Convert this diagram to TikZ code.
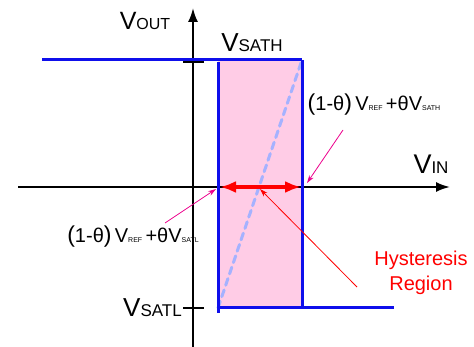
\documentclass[tikz,border=0pt]{standalone}
\usepackage{fontspec}
\setmainfont{Liberation Sans}
\usepackage{xcolor}
\usetikzlibrary{arrows.meta, positioning}

\definecolor{hystpink}{RGB}{255,204,230}
\definecolor{satblue}{RGB}{15,15,235}
\definecolor{trackblue}{RGB}{165,178,255}

% V with a large subscript, as on the axes
\newcommand{\volt}[3]{{\fontsize{#1}{#1}\selectfont V}{\fontsize{#2}{#2}\selectfont #3}}
% switching threshold
\newcommand{\thresh}[1]{{\fontsize{23}{23}\selectfont(}1-θ{\fontsize{23}{23}\selectfont)}\,V{\fontsize{7}{7}\selectfont REF}\,+θV{\fontsize{7}{7}\selectfont #1}}

\begin{document}
\begin{tikzpicture}[
    x=1pt, y=-1pt,
    font=\fontsize{20}{22}\selectfont,
    axis/.style={line width=2pt, -{Latex[length=14pt,width=10pt]}},
    sat/.style={line width=3pt, color=satblue},
    tickmark/.style={line width=1.8pt},
    track/.style={line width=3pt, color=trackblue, dash pattern=on 7pt off 5pt, line cap=round},
    band/.style={line width=4pt, color=red, {Latex[length=16pt,width=12pt]}-{Latex[length=16pt,width=12pt]}},
    pointer/.style={line width=0.8pt, color=magenta, -{Stealth[length=8pt,width=5pt]}},
    callout/.style={line width=0.8pt, color=red, -{Stealth[length=8pt,width=5pt]}},
    label/.style={inner sep=0pt},
]
    \useasboundingbox (0,0) rectangle (474,347);

    % Corners of the loop
    \coordinate (lo) at (218,308);
    \coordinate (hi) at (302,60);

    % Hysteresis region
    \fill[hystpink] (218,60) rectangle (302,308);

    % Axes
    \coordinate (xs) at (18,187);
    \coordinate (xe) at (450,187);
    \coordinate (ys) at (193,347);
    \coordinate (ye) at (193,8);
    \draw[axis] (xs) -- (xe);
    \draw[axis] (ys) -- (ye);

    % Linear track (dashed)
    \draw[track] (lo) -- (hi);

    % Transfer curve
    \coordinate (hl) at (42,60);
    \coordinate (ltop) at (218,62);
    \coordinate (lbot) at (218,313);
    \coordinate (rbot) at (302,308);
    \coordinate (lr) at (394,308);
    \draw[sat] (hl) -- (hi);
    \draw[sat] (ltop) -- (lbot);
    \draw[sat] (hi) -- (rbot);
    \draw[sat] (lo) -- (lr);

    % Ticks on the output axis
    \coordinate (tH1) at (183,62);
    \coordinate (tH2) at (204,62);
    \coordinate (tL1) at (183,308);
    \coordinate (tL2) at (204,308);
    \draw[tickmark] (tH1) -- (tH2);
    \draw[tickmark] (tL1) -- (tL2);

    % Width of the region
    \coordinate (bl) at (220,187);
    \coordinate (br) at (301,187);
    \coordinate (bm) at (260,189);
    \draw[band] (bl) -- (br);

    % Axis labels
    \node[label] (vout) at (145,21) {\volt{25}{16}{OUT}};
    \node[label] (vin) at (431,164) {\volt{27}{17}{IN}};
    \node[label] (vsath) at (252,43) {\volt{26}{17}{SATH}};
    \node[label, left=1pt of tL1] (vsatl) {\volt{26}{17}{SATL}};

    % Threshold labels
    \node[label] (thH) at (374,105) {\thresh{SATH}};
    \node[label] (thL) at (133,237) {\thresh{SATL}};
    \coordinate (pH) at (343,130);
    \coordinate (eH) at (307,183);
    \coordinate (pL) at (165,223);
    \coordinate (eL) at (216,189);
    \draw[pointer] (pH) -- (eH);
    \draw[pointer] (pL) -- (eL);

    % Region callout
    \node[label, text=red, align=center, font=\fontsize{20}{25}\selectfont] (hyst) at (421,273) {Hysteresis\\Region};
    \coordinate (pR) at (357,287);
    \draw[callout] (pR) -- (bm);
\end{tikzpicture}
\end{document}
